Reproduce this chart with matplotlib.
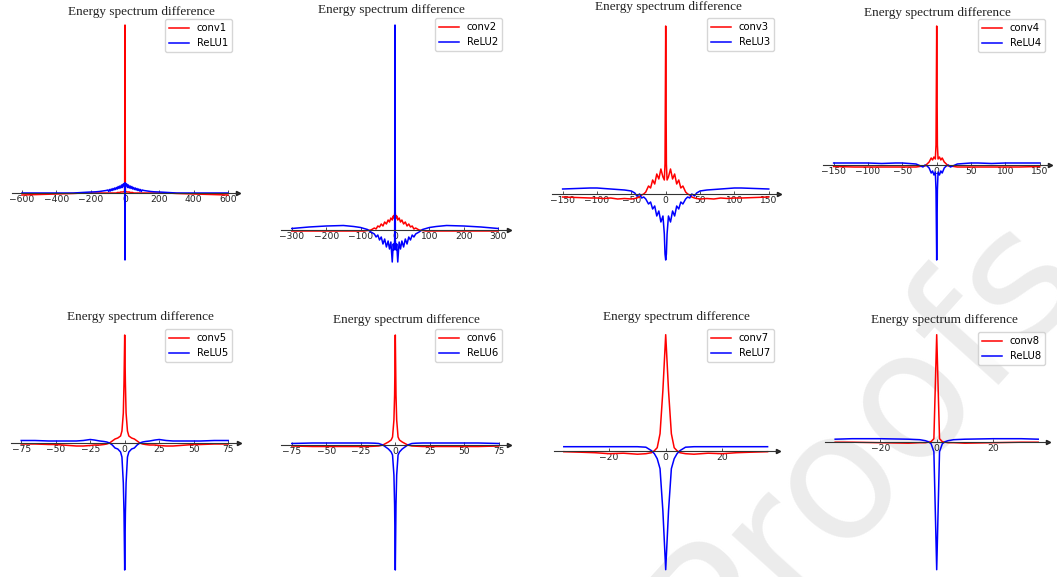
import matplotlib.pyplot as plt
import numpy as np

# ---- data (arbitrary units) ----
p1_x = [-600, -500, -400, -300, -250, -200, -170, -150, -130, -110,
        -100, -95, -90, -85, -80, -75, -70, -65, -60, -55, -50, -45, -40, -35, -30, -25, -20, -15, -10, -5, -2,
        0,
        2, 5, 10, 15, 20, 25, 30, 35, 40, 45, 50, 55, 60, 65, 70, 75, 80, 85, 90, 95, 100,
        110, 130, 150, 170, 200, 250, 300, 400, 500, 600]
p1_conv = [-0.02, -0.015, -0.01, -0.005, 0.0, 0.0, 0.0, 0.0, 0.0, 0.0,
           0.0, 0.0, 0.0, 0.0, 0.0, 0.0, 0.0, 0.0, 0.0, 0.0, 0.0, 0.005, 0.005, 0.005, 0.005, 0.01, 0.01, 0.01, 0.01, 0.015, 0.02,
           1.68,
           0.02, 0.015, 0.01, 0.01, 0.01, 0.01, 0.005, 0.005, 0.005, 0.005, 0.0, 0.0, 0.0, 0.0, 0.0, 0.0, 0.0, 0.0, 0.0, 0.0, 0.0,
           0.0, 0.0, 0.0, 0.0, 0.0, 0.0, -0.005, -0.01, -0.015, -0.02]
p1_relu = [0.0, 0.0, 0.0, 0.0, 0.005, 0.01, 0.012, 0.015, 0.02, 0.025,
           0.03, 0.015, 0.035, 0.02, 0.04, 0.025, 0.045, 0.03, 0.05, 0.035, 0.055, 0.04, 0.065, 0.045, 0.07, 0.05, 0.08, 0.055, 0.09, 0.07, 0.1,
           -0.67,
           0.1, 0.07, 0.09, 0.055, 0.08, 0.05, 0.07, 0.045, 0.065, 0.04, 0.055, 0.035, 0.05, 0.03, 0.045, 0.025, 0.04, 0.02, 0.035, 0.015, 0.03,
           0.025, 0.02, 0.015, 0.012, 0.01, 0.005, 0.0, 0.0, 0.0, 0.0]

p2_x = [-300, -250, -200, -150, -120, -100, -90, -80, -70, -60, -55, -50, -45, -40, -35, -30, -25, -20, -16, -12, -8, -5, -3, -1,
        0,
        1, 3, 5, 8, 12, 16, 20, 25, 30, 35, 40, 45, 50, 55, 60, 70, 80, 90, 100, 120, 150, 200, 250, 300]
p2_conv = [-0.01, -0.01, -0.01, -0.01, -0.01, -0.01, -0.01, -0.005, 0.0, 0.02, 0.01, 0.04, 0.03, 0.06, 0.04, 0.08, 0.06, 0.1, 0.08, 0.12, 0.1, 0.14, 0.12, 0.16,
           0.22,
           0.16, 0.12, 0.14, 0.1, 0.12, 0.08, 0.1, 0.06, 0.08, 0.04, 0.06, 0.03, 0.04, 0.01, 0.02, 0.0, -0.005, -0.01, -0.01, -0.01, -0.01, -0.01, -0.01, -0.01]
p2_relu = [0.015, 0.03, 0.04, 0.045, 0.035, 0.025, 0.015, 0.005, -0.02, -0.04, -0.07, -0.05, -0.1, -0.07, -0.14, -0.09, -0.17, -0.11, -0.19, -0.12, -0.32, -0.14, -0.2, -0.1,
           2.05,
           -0.1, -0.2, -0.14, -0.32, -0.12, -0.19, -0.11, -0.17, -0.09, -0.14, -0.07, -0.1, -0.05, -0.07, -0.04, -0.02, 0.005, 0.015, 0.025, 0.035, 0.045, 0.04, 0.03, 0.015]

p3_x = [-150, -130, -110, -100, -90, -80, -70, -60, -50, -45, -42, -38, -35, -32, -29, -25, -22, -19, -16, -13, -10, -7, -4, -2, -1,
        0,
        1, 2, 4, 7, 10, 13, 16, 19, 22, 25, 29, 32, 35, 38, 42, 45, 50, 60, 70, 80, 90, 100, 110, 130, 150]
p3_conv = [-0.03, -0.035, -0.04, -0.04, -0.045, -0.04, -0.05, -0.045, -0.05, -0.045, -0.04, -0.03, -0.01, 0.0, 0.02, 0.08, 0.06, 0.14, 0.1, 0.2, 0.15, 0.25, 0.17, 0.14, 0.3,
           1.68,
           0.3, 0.14, 0.17, 0.25, 0.15, 0.2, 0.1, 0.14, 0.06, 0.08, 0.02, 0.0, -0.01, -0.03, -0.04, -0.045, -0.05, -0.045, -0.05, -0.04, -0.045, -0.04, -0.04, -0.035, -0.03]
p3_relu = [0.05, 0.055, 0.06, 0.06, 0.055, 0.05, 0.045, 0.04, 0.03, 0.01, -0.02, 0.0, -0.04, -0.03, -0.05, -0.1, -0.08, -0.15, -0.12, -0.22, -0.17, -0.28, -0.22, -0.4, -0.6,
           -0.66,
           -0.6, -0.4, -0.22, -0.28, -0.17, -0.22, -0.12, -0.15, -0.08, -0.1, -0.05, -0.03, -0.04, 0.0, -0.02, 0.01, 0.03, 0.04, 0.045, 0.05, 0.055, 0.06, 0.06, 0.055, 0.05]

p4_x = [-150, -120, -100, -80, -60, -50, -40, -30, -25, -20, -17, -14, -11, -8, -6, -4, -2, -1,
        0,
        1, 2, 4, 6, 8, 11, 14, 17, 20, 25, 30, 40, 50, 60, 80, 100, 120, 150]
p4_conv = [-0.015, -0.02, -0.02, -0.02, -0.02, -0.02, -0.02, -0.02, -0.015, -0.01, -0.01, 0.01, 0.03, 0.07, 0.05, 0.08, 0.06, 0.2,
           1.39,
           0.2, 0.06, 0.08, 0.05, 0.07, 0.03, 0.01, -0.01, -0.01, -0.015, -0.02, -0.02, -0.02, -0.02, -0.02, -0.02, -0.02, -0.015]
p4_relu = [0.02, 0.02, 0.02, 0.015, 0.02, 0.02, 0.015, 0.01, -0.005, -0.02, 0.0, -0.01, -0.03, -0.08, -0.06, -0.1, -0.07, -0.25,
           -0.95,
           -0.25, -0.07, -0.1, -0.06, -0.08, -0.03, -0.01, 0.0, -0.02, -0.005, 0.01, 0.015, 0.02, 0.02, 0.015, 0.02, 0.02, 0.02]

p5_x = [-75, -65, -55, -50, -45, -40, -35, -30, -25, -22, -18, -15, -13, -11, -9, -7, -5, -3, -2, -1, -0.5,
        0,
        0.5, 1, 2, 3, 5, 7, 9, 11, 13, 15, 18, 22, 25, 30, 35, 40, 45, 50, 55, 65, 75]
p5_conv = [-0.01, -0.01, -0.015, -0.015, -0.02, -0.025, -0.03, -0.03, -0.025, -0.02, -0.02, -0.015, -0.01, 0.0, 0.02, 0.04, 0.05, 0.07, 0.12, 0.3, 0.6,
           1.08,
           0.6, 0.3, 0.12, 0.07, 0.05, 0.04, 0.02, 0.0, -0.01, -0.015, -0.02, -0.02, -0.025, -0.03, -0.03, -0.025, -0.02, -0.015, -0.015, -0.01, -0.01]
p5_relu = [0.025, 0.025, 0.02, 0.02, 0.02, 0.02, 0.02, 0.025, 0.035, 0.03, 0.02, 0.015, 0.01, 0.0, -0.02, -0.05, -0.06, -0.09, -0.14, -0.4, -0.7,
           -1.27,
           -0.7, -0.4, -0.14, -0.09, -0.06, -0.05, -0.02, 0.0, 0.01, 0.015, 0.02, 0.03, 0.035, 0.025, 0.02, 0.02, 0.02, 0.02, 0.02, 0.025, 0.025]

p6_x = [-75, -60, -50, -40, -30, -20, -15, -12, -9, -7, -5, -3, -2, -1, -0.5,
        0,
        0.5, 1, 2, 3, 5, 7, 9, 12, 15, 20, 30, 40, 50, 60, 75]
p6_conv = [-0.01, -0.015, -0.015, -0.015, -0.015, -0.015, -0.012, -0.01, 0.0, 0.015, 0.03, 0.05, 0.08, 0.25, 0.5,
           1.10,
           0.5, 0.25, 0.08, 0.05, 0.03, 0.015, 0.0, -0.01, -0.012, -0.015, -0.015, -0.015, -0.015, -0.015, -0.01]
p6_relu = [0.015, 0.02, 0.02, 0.02, 0.02, 0.02, 0.018, 0.015, 0.0, -0.02, -0.04, -0.07, -0.1, -0.3, -0.6,
           -1.25,
           -0.6, -0.3, -0.1, -0.07, -0.04, -0.02, 0.0, 0.015, 0.018, 0.02, 0.02, 0.02, 0.02, 0.02, 0.015]

p7_x = [-36, -30, -25, -20, -15, -10, -7, -5, -4, -3, -2, -1,
        0,
        1, 2, 3, 4, 5, 7, 10, 15, 20, 25, 30, 36]
p7_conv = [-0.01, -0.015, -0.02, -0.03, -0.025, -0.035, -0.03, -0.02, 0.0, 0.03, 0.17, 0.6,
           1.16,
           0.6, 0.17, 0.03, 0.0, -0.02, -0.03, -0.035, -0.025, -0.03, -0.02, -0.015, -0.01]
p7_relu = [0.04, 0.04, 0.04, 0.04, 0.04, 0.04, 0.035, 0.0, -0.03, -0.08, -0.18, -0.6,
           -1.19,
           -0.6, -0.18, -0.08, -0.03, 0.0, 0.035, 0.04, 0.04, 0.04, 0.04, 0.04, 0.04]

p8_x = [-36, -30, -20, -10, -6, -4, -3, -2, -1,
        0,
        1, 2, 3, 4, 6, 10, 20, 30, 36]
p8_conv = [-0.005, -0.005, -0.01, -0.015, -0.01, -0.01, -0.005, 0.0, 0.03,
           1.07,
           0.03, 0.0, -0.005, -0.01, -0.01, -0.015, -0.01, -0.005, -0.005]
p8_relu = [0.025, 0.03, 0.03, 0.025, 0.02, 0.01, 0.0, -0.02, -0.1,
           -1.28,
           -0.1, -0.02, 0.0, 0.01, 0.02, 0.025, 0.03, 0.03, 0.025]

xs = [p1_x, p2_x, p3_x, p4_x, p5_x, p6_x, p7_x, p8_x]
convs = [p1_conv, p2_conv, p3_conv, p4_conv, p5_conv, p6_conv, p7_conv, p8_conv]
relus = [p1_relu, p2_relu, p3_relu, p4_relu, p5_relu, p6_relu, p7_relu, p8_relu]
ticks = [[-600, -400, -200, 0, 200, 400, 600],
         [-300, -200, -100, 0, 100, 200, 300],
         [-150, -100, -50, 0, 50, 100, 150],
         [-150, -100, -50, 0, 50, 100, 150],
         [-75, -50, -25, 0, 25, 50, 75],
         [-75, -50, -25, 0, 25, 50, 75],
         [-20, 0, 20],
         [-20, 0, 20]]

# ---- layout in figure pixels ----
W, H = 1057, 577
# x of zero, px per x unit, y of zero, px per y unit
place = [(125.0, 0.1717, 193, 100), (395.0, 0.344, 230, 100),
         (665.7, 0.687, 194, 100), (936.7, 0.687, 165, 100),
         (124.7, 1.38, 443, 100), (395.3, 1.38, 445, 100),
         (665.7, 2.83, 450.7, 100), (936.7, 2.82, 441.7, 100)]
title_pos = [(141, 12), (391, 10), (668, 7), (937, 13),
             (140, 317), (406, 320), (676, 317), (944, 320)]
legend_pos = [(232, 19), (502, 18), (774, 18), (1045, 19),
              (232, 329), (502, 329), (774, 329), (1045, 332)]

fig = plt.figure(figsize=(W / 100, H / 100), dpi=100)

# faint watermark behind the panels
fig.text(865 / W, 1 - 440 / H, "Proofs", fontsize=128, color="#ececec",
         rotation=48, ha="center", va="center", rotation_mode="anchor",
         family="DejaVu Sans", zorder=-1)

for i in range(8):
    x = np.array(xs[i])
    c = np.array(convs[i])
    r = np.array(relus[i])
    zx, sx, zy, sy = place[i]
    xr = x.max() - x.min()
    xlim = (x.min() - 0.05 * xr, x.max() + 0.05 * xr)
    ylo = min(c.min(), r.min())
    yhi = max(c.max(), r.max())
    yr = yhi - ylo
    ylim = (ylo - 0.05 * yr, yhi + 0.05 * yr)
    left = zx + xlim[0] * sx
    right = zx + xlim[1] * sx
    top = zy - ylim[1] * sy
    bottom = zy - ylim[0] * sy
    ax = fig.add_axes([left / W, 1 - bottom / H, (right - left) / W, (bottom - top) / H])
    ax.patch.set_alpha(0)

    ax.plot(x, c, color="red", lw=1.1, label="conv%d" % (i + 1))
    ax.plot(x, r, color="blue", lw=1.1, label="ReLU%d" % (i + 1))
    ax.set_xlim(xlim)
    ax.set_ylim(ylim)

    ax.spines["bottom"].set_position("zero")
    ax.spines["bottom"].set_color("#333333")
    ax.spines["bottom"].set_linewidth(0.8)
    for s in ["left", "top", "right"]:
        ax.spines[s].set_visible(False)
    ax.set_yticks([])
    ax.set_xticks(ticks[i])
    ax.set_xticklabels([str(t).replace("-", "\u2212") for t in ticks[i]])
    ax.tick_params(axis="x", direction="in", length=2.5, width=0.6,
                   labelsize=6.6, pad=1.5, colors="#333333", labelcolor="#222222")
    ax.plot(1, 0, ">", color="#222222", markersize=3,
            transform=ax.get_yaxis_transform(), clip_on=False)

    lx, ly = legend_pos[i]
    ax.legend(loc="upper right", bbox_to_anchor=(lx / W, 1 - ly / H),
              bbox_transform=fig.transFigure, fontsize=7.2, borderaxespad=0,
              handlelength=2.0, framealpha=0.8)

    tx, ty = title_pos[i]
    fig.text(tx / W, 1 - ty / H, "Energy spectrum difference", ha="center", va="center",
             family="Liberation Serif", fontsize=9.5, color="#222222")

fig.savefig("out.png", dpi=100)
